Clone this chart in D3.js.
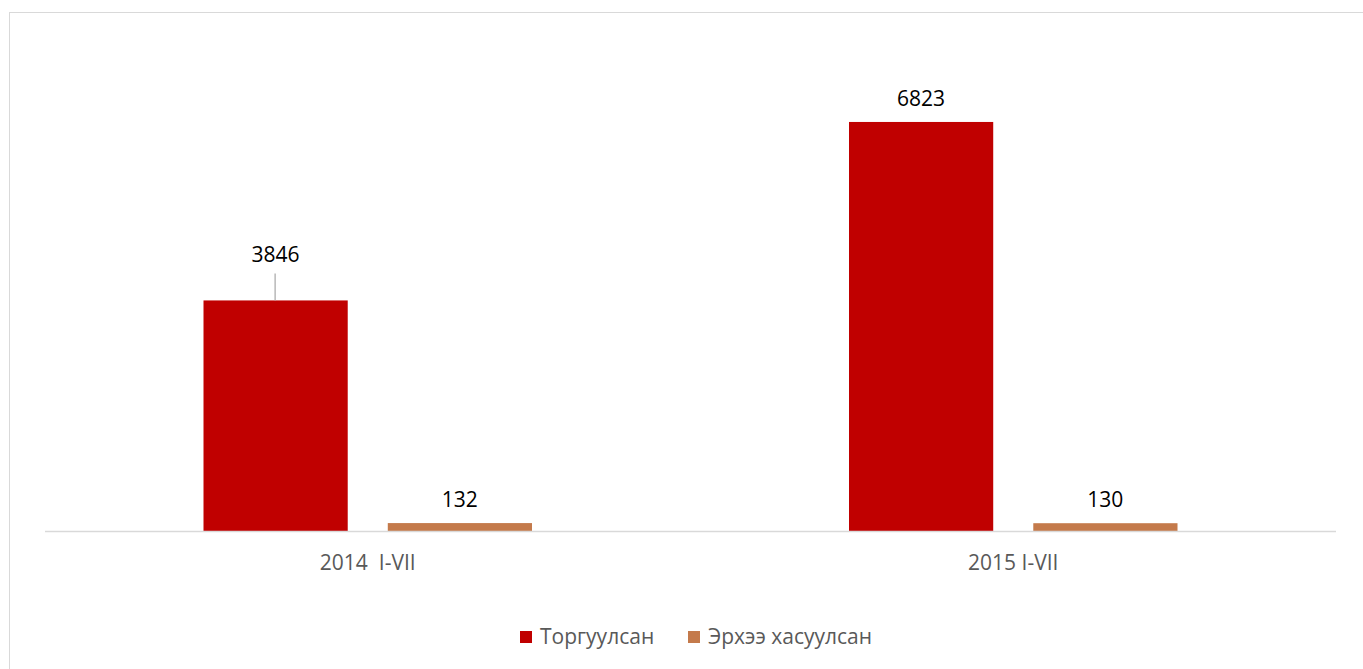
<!DOCTYPE html>
<html>
<head>
<meta charset="utf-8">
<script src="https://cdn.jsdelivr.net/npm/d3@7"></script>
<style>
  body { margin: 0; background: #fff; }
  text { font-family: "Open Sans", sans-serif; }
</style>
</head>
<body>
<div class="graph"></div>
<script>
const categories = ['2014  I-VII', '2015 I-VII'];
const seriesNames = ['Торгуулсан', 'Эрхээ хасуулсан'];
const fined = [3846, 6823];
const revoked = [132, 130];
const colors = ['#c00000', '#c47a4b'];

document.addEventListener('DOMContentLoaded', function () {
  const width = 1363;
  const height = 669;

  const svg = d3.select('.graph')
    .append('svg')
    .attr('width', width)
    .attr('height', height);

  // chart frame (runs off the right / bottom edge)
  svg.append('rect')
    .attr('x', 9.5)
    .attr('y', 12.5)
    .attr('width', 1400)
    .attr('height', 700)
    .attr('fill', 'none')
    .attr('stroke', '#d9d9d9');

  const x = d3.scaleBand()
    .domain(categories)
    .range([45, 1336]);

  const x1 = d3.scaleBand()
    .domain(seriesNames)
    .range([158.5, x.bandwidth() - 158.5])
    .paddingInner(40 / 184);

  const y = d3.scaleLinear()
    .domain([0, 7000])
    .range([531, 531 - 7000 * 0.05995]);

  const rows = categories.map((c, i) => ({
    cat: c,
    values: [
      { name: seriesNames[0], value: fined[i], color: colors[0] },
      { name: seriesNames[1], value: revoked[i], color: colors[1] }
    ]
  }));

  const groups = svg.selectAll('g.cat')
    .data(rows)
    .enter()
    .append('g')
    .attr('class', 'cat')
    .attr('transform', d => `translate(${x(d.cat)},0)`);

  groups.selectAll('rect')
    .data(d => d.values)
    .enter()
    .append('rect')
    .attr('x', d => x1(d.name))
    .attr('y', d => y(d.value))
    .attr('width', x1.bandwidth())
    .attr('height', d => y(0) - y(d.value))
    .attr('fill', d => d.color);

  // value labels; the 3846 label is lifted with a leader line
  groups.selectAll('text.val')
    .data((d, i) => d.values.map(v => Object.assign({ lift: (i === 0 && v.name === seriesNames[0]) ? 22 : 0 }, v)))
    .enter()
    .append('text')
    .attr('class', 'val')
    .attr('x', d => x1(d.name) + x1.bandwidth() / 2)
    .attr('y', d => y(d.value) - 16 - d.lift)
    .attr('text-anchor', 'middle')
    .attr('font-size', '21px')
    .attr('fill', '#000')
    .text(d => d.value);

  groups.selectAll('line.leader')
    .data((d, i) => i === 0 ? [d.values[0]] : [])
    .enter()
    .append('line')
    .attr('class', 'leader')
    .attr('x1', d => x1(d.name) + x1.bandwidth() / 2 - 0.5)
    .attr('x2', d => x1(d.name) + x1.bandwidth() / 2 - 0.5)
    .attr('y1', d => y(d.value) - 27)
    .attr('y2', d => y(d.value))
    .attr('stroke', '#a6a6a6')
    .attr('stroke-width', 1.2);

  // x axis
  svg.append('line')
    .attr('x1', 45)
    .attr('x2', 1336)
    .attr('y1', 531.5)
    .attr('y2', 531.5)
    .attr('stroke', '#d9d9d9')
    .attr('stroke-width', 1.5);

  svg.selectAll('text.cat')
    .data(categories)
    .enter()
    .append('text')
    .attr('class', 'cat')
    .attr('x', d => x(d) + x.bandwidth() / 2)
    .attr('y', 570)
    .attr('text-anchor', 'middle')
    .attr('font-size', '21px')
    .attr('fill', '#595959')
    .style('white-space', 'pre')
    .text(d => d);

  // legend
  const legend = svg.append('g')
    .attr('id', 'legend')
    .attr('transform', 'translate(520,631)');

  const legendX = [0, 168];

  legend.selectAll('rect')
    .data(seriesNames)
    .enter()
    .append('rect')
    .attr('x', (d, i) => legendX[i])
    .attr('y', 0)
    .attr('width', 12)
    .attr('height', 12)
    .attr('fill', (d, i) => colors[i]);

  legend.selectAll('text')
    .data(seriesNames)
    .enter()
    .append('text')
    .attr('x', (d, i) => legendX[i] + 20)
    .attr('y', 6)
    .attr('dy', '.35em')
    .attr('font-size', '21px')
    .attr('fill', '#595959')
    .text(d => d);
});
</script>
</body>
</html>
